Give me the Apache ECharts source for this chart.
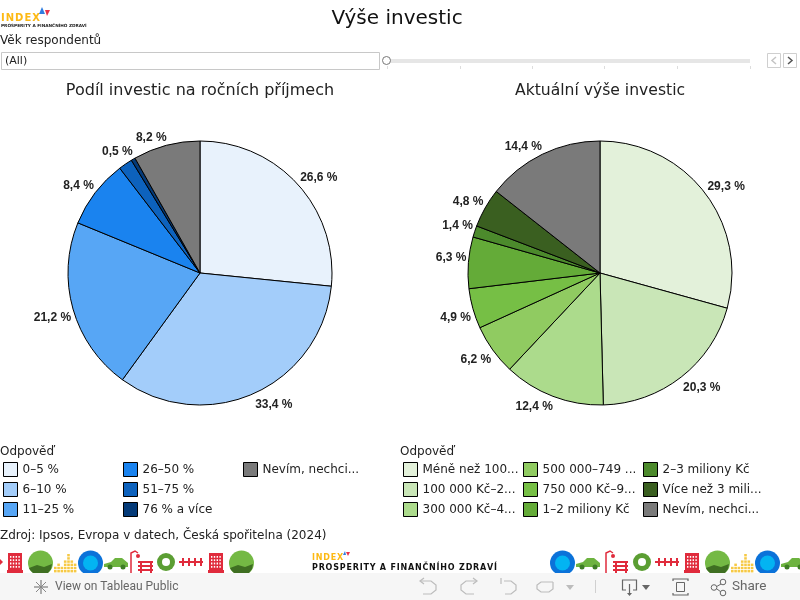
<!DOCTYPE html>
<html>
<head>
<meta charset="utf-8">
<title>Výše investic</title>
<style>
  html, body { margin: 0; padding: 0; background: #fff; }
  #chart { width: 800px; height: 600px; }
</style>
<script src="https://cdn.jsdelivr.net/npm/echarts@6/dist/echarts.min.js"></script>
</head>
<body>
<div id="chart"></div>
<script>
// data
var shareNames = ['0–5 %', '6–10 %', '11–25 %', '26–50 %', '51–75 %', '76 % a více', 'Nevím, nechci...'];
var shareValues = [26.6, 33.4, 21.2, 8.4, 1.7, 0.5, 8.2];
var shareHidden = ['51–75 %'];   // this slice has no label in the original
var shareColors = ['#e8f2fc', '#a3cdfa', '#57a6f5', '#1a83ef', '#0d62bd', '#043a78', '#7a7a7a'];

var amountNames = ['Méně než 100...', '100 000 Kč–2...', '300 000 Kč–4...', '500 000–749 ...', '750 000 Kč–9...', '1–2 miliony Kč', '2–3 miliony Kč', 'Více než 3 mili...', 'Nevím, nechci...'];
var amountValues = [29.3, 20.3, 12.4, 6.2, 4.9, 6.3, 1.4, 4.8, 14.4];
var amountColors = ['#e3f1da', '#c9e6b7', '#acdb8c', '#90cb61', '#76bf45', '#64ab38', '#4c8a2c', '#3a5f20', '#7a7a7a'];

var FONT = '"DejaVu Sans"';
var PIE_Y = 273, PIE_R = 132;
var chart = echarts.init(document.getElementById('chart'));

function toItems(names, values, colors, hidden) {
  return names.map(function (n, i) {
    var item = { name: n, value: values[i], itemStyle: { color: colors[i] } };
    if (hidden && hidden.indexOf(n) >= 0) item.label = { show: false };
    return item;
  });
}

function pieSeries(name, cx, items, values) {
  var total = values.reduce(function (a, b) { return a + b; }, 0);
  return {
    name: name,
    type: 'pie',
    center: [cx, PIE_Y],
    radius: [0, PIE_R],
    startAngle: 90,
    clockwise: true,
    animation: false,
    silent: true,
    avoidLabelOverlap: false,
    itemStyle: { borderColor: '#000', borderWidth: 1 },
    label: {
      show: true,
      position: 'outside',
      color: '#222',
      fontFamily: '"Liberation Sans"',
      fontWeight: 'bold',
      fontSize: 12,
      formatter: function (p) { return p.value.toFixed(1).replace('.', ',') + ' %'; }
    },
    labelLine: { show: false },
    // tableau hangs the label's nearest corner on the slice's middle radius
    labelLayout: function (p) {
      var before = values.slice(0, p.dataIndex).reduce(function (a, b) { return a + b; }, 0);
      var mid = (before + values[p.dataIndex] / 2) / total * Math.PI * 2;
      var s = Math.sin(mid), c = Math.cos(mid);
      return {
        x: cx + (PIE_R + 3) * s + (s > 0 ? 0 : 1),
        y: PIE_Y - (PIE_R + 3) * c + (c > 0 ? 1 : 2),
        align: s > 0 ? 'left' : 'right',
        verticalAlign: c > 0 ? 'bottom' : 'top'
      };
    },
    data: items
  };
}

// one legend per column so the columns keep a fixed pitch
function legendAt(left, names) {
  return {
    orient: 'vertical',
    left: left,
    top: 462,
    padding: 0,
    itemGap: 5,
    itemWidth: 14,
    itemHeight: 14,
    icon: 'rect',
    selectedMode: false,
    itemStyle: { borderColor: '#000', borderWidth: 1 },
    textStyle: { fontFamily: FONT, fontSize: 12, color: '#222' },
    data: names
  };
}

// plain page furniture: text helper + the tableau controls
function txt(x, y, s, size, color, extra) {
  var style = { x: x, y: y, text: s, fontFamily: FONT, fontSize: size, fill: color || '#222', verticalAlign: 'middle' };
  for (var k in extra) style[k] = extra[k];
  return { type: 'text', style: style, silent: true };
}
function box(x, y, w, h, fill, stroke) {
  return { type: 'rect', shape: { x: x, y: y, width: w, height: h }, style: { fill: fill, stroke: stroke || null, lineWidth: 1 }, silent: true };
}
function line(pts, color, w) {
  return { type: 'polyline', shape: { points: pts }, style: { stroke: color, lineWidth: w || 1, fill: null }, silent: true };
}
function poly(pts, color) {
  return { type: 'polygon', shape: { points: pts }, style: { fill: color }, silent: true };
}
function disc(x, y, r, fill, stroke) {
  return { type: 'circle', shape: { cx: x, cy: y, r: r }, style: { fill: fill, stroke: stroke || null, lineWidth: 1 }, silent: true };
}
function spaced(s) { return s.split('').join('\u200a'); }

// decorative strip icons
function ball(x) {
  return [disc(x + 12.5, 563, 12.5, '#74b944'),
    poly([[x + 1, 568], [x + 9, 565], [x + 16, 567], [x + 24, 564], [x + 23, 569], [x + 20, 573], [x + 5, 573], [x + 2, 570]], '#3f6f22')];
}
function blueBall(x) {
  return [disc(x + 12.5, 563, 12.5, '#0b72d9'), disc(x + 12.5, 563, 7.5, '#03b4f2')];
}
function bars(x) {
  var g = [], heights = [2, 3, 2, 4, 6, 4, 3];
  heights.forEach(function (h, i) {
    for (var j = 0; j < h; j++) g.push(box(x + i * 3.3, 570 - j * 3.2, 2.6, 2.4, '#f6c945'));
  });
  return g;
}
function car(x) {
  return [poly([[x, 564], [x + 7, 562], [x + 11, 558], [x + 18, 558], [x + 24, 563], [x + 24, 567], [x, 567]], '#6db33f'),
    disc(x + 6, 567, 2.5, '#3e7d25'), disc(x + 19, 567, 2.5, '#3e7d25')];
}
function bench(x) {
  return [line([[x + 2, 573], [x + 2, 553], [x + 6, 551], [x + 9, 553]], '#e02b3c', 1.5),
    disc(x + 9, 556, 2, '#e02b3c'),
    box(x + 9, 561, 15, 2, '#e02b3c'), box(x + 9, 565, 15, 2, '#e02b3c'), box(x + 9, 569, 15, 2, '#e02b3c'),
    box(x + 11, 561, 2, 12, '#e02b3c'), box(x + 21, 561, 2, 12, '#e02b3c')];
}
function gear(x) {
  return [disc(x + 9, 562, 9, '#5b9e33'), disc(x + 9, 562, 4, '#fff')];
}
function fence(x) {
  var g = [box(x, 561, 24, 2, '#e02b3c')];
  [3, 9, 15, 21].forEach(function (d) { g.push(box(x + d, 558, 2, 8, '#e02b3c')); });
  return g;
}
function building(x) {
  var g = [box(x + 1, 553, 14, 17, '#e02b3c'), box(x, 570, 16, 3, '#e02b3c')];
  for (var r = 0; r < 4; r++) for (var c = 0; c < 4; c++) g.push(box(x + 3 + c * 2.8, 556 + r * 3.3, 1.4, 1.8, '#fff'));
  return g;
}

var strip = [].concat(
  poly([[0, 559], [3, 562], [0, 565]], '#e02b3c'),
  building(7), ball(28), bars(54), blueBall(78), car(104), bench(129), gear(157), fence(179), building(208), ball(229),
  blueBall(550), car(576), bench(604), gear(633), fence(655), building(684), ball(705), bars(731), blueBall(755), car(781)
);

var logos = [
  txt(1, 18, spaced('INDEX'), 10, '#fdb913', { fontWeight: 'bold' }),
  poly([[39, 14], [45, 14], [42, 7]], '#2f7de1'),
  poly([[45, 10], [50, 10], [47, 16]], '#e8334a'),
  txt(1, 25.5, 'PROSPERITY A FINANČNÍHO ZDRAVÍ', 4.25, '#222', { fontWeight: 'bold' }),
  txt(312, 558, spaced('INDEX'), 8, '#fdb913', { fontWeight: 'bold' }),
  poly([[343, 555], [346, 555], [345, 551]], '#2f7de1'),
  poly([[346, 552], [350, 552], [348, 556]], '#e8334a'),
  txt(312, 567.5, spaced('PROSPERITY A FINANČNÍHO ZDRAVÍ'), 8, '#111', { fontWeight: 'bold' })
];

var filterBar = [
  txt(0, 41, 'Věk respondentů', 12),
  box(1.5, 52.5, 378, 17, '#fff', '#c8c8c8'),
  txt(5, 61, '(All)', 11),
  box(386, 59, 364, 4, '#e6e6e6'),
  disc(386.5, 60.5, 4, '#fff', '#777')
];
[387, 460, 532, 604, 677, 750].forEach(function (x) {
  filterBar.push(line([[x + 0.5, 66], [x + 0.5, 69]], '#ddd'));
});
filterBar.push(
  box(767.5, 53.5, 13, 14, '#fff', '#cfcfcf'),
  line([[776, 57], [772, 60.5], [776, 64]], '#c4c4c4', 1.5),
  box(783.5, 53.5, 13, 14, '#fff', '#cfcfcf'),
  line([[788, 57], [792, 60.5], [788, 64]], '#555', 1.5)
);

var bottomText = [
  txt(0, 451.5, 'Odpověď', 12),
  txt(400, 451.5, 'Odpověď', 12),
  txt(0, 535.5, 'Zdroj: Ipsos, Evropa v datech, Česká spořitelna (2024)', 12)
];

var GREY = '#bcbcbc', DARK = '#666';
var toolbar = [
  box(0, 573, 800, 27, '#f6f6f6'),
  line([[41, 580], [41, 594]], DARK), line([[34, 587], [48, 587]], DARK),
  line([[36, 582], [46, 592]], '#888'), line([[46, 582], [36, 592]], '#888'),
  txt(55, 587, 'View on Tableau Public', 12, DARK, { fontFamily: 'Roboto' }),
  line([[421, 581], [431, 581], [436, 585], [436, 590], [431, 594], [423, 594]], GREY, 1.2),
  line([[424, 578], [420, 581], [424, 584]], GREY, 1.2),
  line([[476, 581], [466, 581], [461, 585], [461, 590], [466, 594], [474, 594]], GREY, 1.2),
  line([[473, 578], [477, 581], [473, 584]], GREY, 1.2),
  line([[504, 581], [511, 581], [516, 585], [516, 590], [511, 594], [505, 594]], GREY, 1.2),
  line([[501, 578], [501, 584]], GREY, 1.2),
  line([[553, 582], [541, 582], [537, 585], [537, 589], [541, 592], [549, 592], [553, 589], [553, 582]], GREY, 1.2),
  poly([[566, 585], [574, 585], [570, 590]], GREY),
  line([[595.5, 580], [595.5, 593]], '#d0d0d0'),
  line([[626, 590], [622.5, 590], [622.5, 580], [636.5, 580], [636.5, 590], [633, 590]], DARK, 1.2),
  line([[629.5, 584], [629.5, 595]], DARK, 1.2),
  poly([[627, 593], [632, 593], [629.5, 596]], DARK),
  poly([[642, 585], [650, 585], [646, 590]], DARK),
  line([[673, 581], [673, 579], [688, 579], [688, 581]], DARK, 1.2),
  line([[673, 593], [673, 595], [688, 595], [688, 593]], DARK, 1.2),
  box(676.5, 582.5, 8, 9, null, DARK),
  line([[721, 584], [715, 587.5], [721, 592]], DARK, 1),
  { type: 'circle', shape: { cx: 723, cy: 582, r: 2.8 }, style: { fill: '#f6f6f6', stroke: DARK }, silent: true },
  { type: 'circle', shape: { cx: 714, cy: 587.5, r: 2.8 }, style: { fill: '#f6f6f6', stroke: DARK }, silent: true },
  { type: 'circle', shape: { cx: 723, cy: 593, r: 2.8 }, style: { fill: '#f6f6f6', stroke: DARK }, silent: true },
  txt(732, 587, 'Share', 13.5, DARK, { fontFamily: 'Roboto' })
];

chart.setOption({
  animation: false,
  backgroundColor: '#fff',
  title: [
    { text: 'Výše investic', left: 397, top: 9, padding: 0, textAlign: 'center', textStyle: { fontFamily: FONT, fontSize: 20, fontWeight: 'normal', color: '#111' } },
    { text: 'Podíl investic na ročních příjmech', left: 200, top: 83, padding: 0, textAlign: 'center', textStyle: { fontFamily: FONT, fontSize: 16, fontWeight: 'normal', color: '#222' } },
    { text: 'Aktuální výše investic', left: 600, top: 83, padding: 0, textAlign: 'center', textStyle: { fontFamily: FONT, fontSize: 15.6, fontWeight: 'normal', color: '#222' } }
  ],
  legend: [
    legendAt(3, shareNames.slice(0, 3)), legendAt(123, shareNames.slice(3, 6)), legendAt(243, shareNames.slice(6)),
    legendAt(403, amountNames.slice(0, 3)), legendAt(523, amountNames.slice(3, 6)), legendAt(643, amountNames.slice(6))
  ],
  series: [
    pieSeries('Podíl investic', 200, toItems(shareNames, shareValues, shareColors, shareHidden), shareValues),
    pieSeries('Aktuální výše', 600, toItems(amountNames, amountValues, amountColors), amountValues)
  ],
  graphic: { elements: [].concat(logos, filterBar, bottomText, strip, toolbar) }
});
</script>
</body>
</html>
